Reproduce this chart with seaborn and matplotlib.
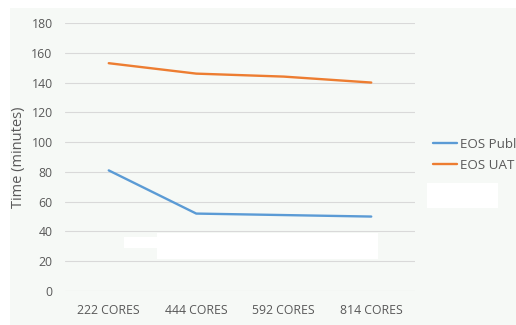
import matplotlib
matplotlib.use("Agg")
import matplotlib.pyplot as plt
from matplotlib.patches import Rectangle
import seaborn as sns
import pandas as pd

categories = ["222 CORES", "444 CORES", "592 CORES", "814 CORES"]
eos_public = [81, 52, 51, 50]
eos_uat = [153, 146, 144, 140]
series_names = ["EOS Public", "EOS UAT"]
y_ticks = [0, 20, 40, 60, 80, 100, 120, 140, 160, 180]

df = pd.DataFrame({
    "cores": categories * 2,
    "time": eos_public + eos_uat,
    "series": [series_names[0]] * len(categories) + [series_names[1]] * len(categories),
})

sns.set_theme(style="white")
plt.rcParams["font.family"] = ["Open Sans", "DejaVu Sans"]

W, H = 516, 325
bg = "#F6F9F6"
txt = "#595959"

fig = plt.figure(figsize=(W / 100, H / 100), dpi=100)
fig.patch.set_facecolor("white")
fig.add_artist(Rectangle((10 / W, 0), 1, 1 - 8 / H, transform=fig.transFigure,
                         facecolor=bg, edgecolor="none", zorder=-10))

ax = fig.add_axes([65 / W, 1 - 291 / H, 350 / W, 268 / H])
ax.set_facecolor("none")

sns.lineplot(data=df, x="cores", y="time", hue="series", sort=False,
             palette=["#5B9BD5", "#ED7D31"], linewidth=1.7, ax=ax, legend=True)

ax.set_xlim(-0.5, len(categories) - 0.5)
ax.set_ylim(0, 180)
ax.set_yticks(y_ticks)
ax.grid(axis="y", color="#D9D9D9", linewidth=0.8)
ax.grid(axis="x", visible=False)
for s in ax.spines.values():
    s.set_visible(False)
ax.tick_params(axis="both", length=0, colors=txt, labelsize=8.8)
ax.tick_params(axis="y", pad=9)
ax.tick_params(axis="x", pad=9)
ax.set_xlabel("")
ax.set_ylabel("Time (minutes)", color=txt, fontsize=10.5, labelpad=4)

handles, labels = ax.get_legend_handles_labels()
ax.get_legend().remove()
leg = fig.legend(handles, labels, loc="center left", bbox_to_anchor=(433 / W, 1 - 155 / H),
                 frameon=False, fontsize=9.6, handlelength=1.8, handletextpad=0.2,
                 labelspacing=0.6, borderpad=0, borderaxespad=0)
for t in leg.get_texts():
    t.set_color(txt)

# white patches present in the reference image
for (x0, y0, x1, y1) in [(124, 237, 168, 248), (157, 233, 378, 259), (427, 183, 498, 208)]:
    fig.add_artist(Rectangle((x0 / W, 1 - y1 / H), (x1 - x0) / W, (y1 - y0) / H,
                             transform=fig.transFigure, facecolor="white",
                             edgecolor="none", zorder=20))

fig.savefig("out.png", dpi=100)
